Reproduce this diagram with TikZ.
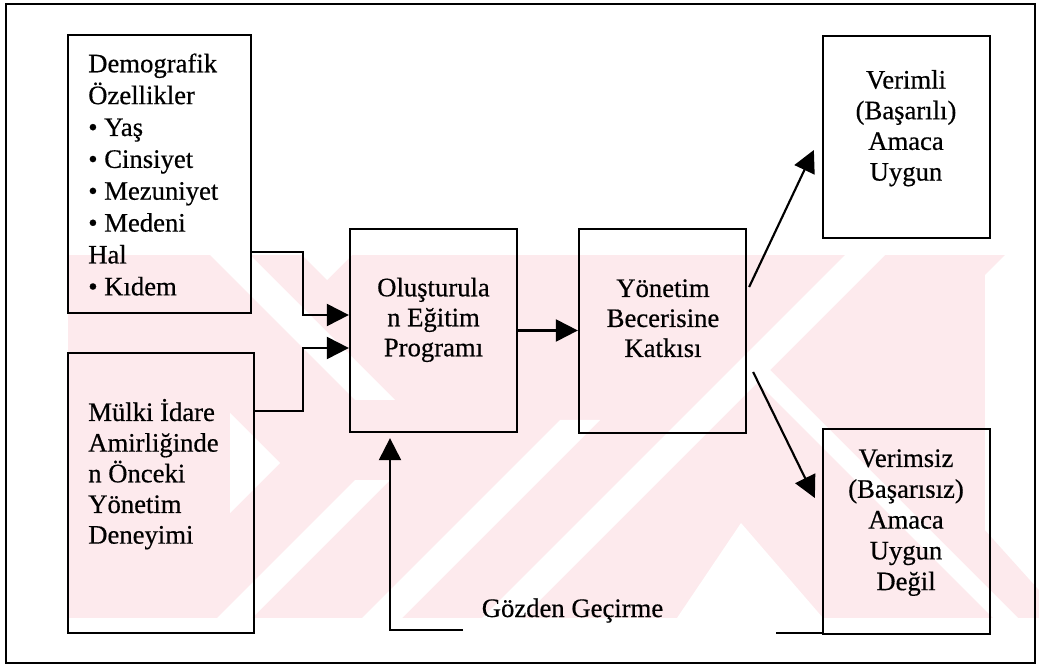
\documentclass[tikz,border=0pt]{standalone}
\usepackage{fontspec}
\setmainfont{Liberation Serif}[FakeBold=0.5]
\usetikzlibrary{arrows.meta,calc}
\definecolor{wm}{RGB}{253,234,237}
\begin{document}
\begin{tikzpicture}[x=0.75pt,y=-0.75pt,
  box/.style 2 args={draw,line width=1.7pt,inner sep=0pt,minimum width=#1*0.75pt,minimum height=#2*0.75pt},
  arr/.style={line width=1.6pt,-{Triangle[length=16.5pt,width=16.5pt]}},
  ln/.style={line width=1.6pt},
  txt/.style={inner sep=0pt,font=\fontsize{20}{#1}\selectfont},
  txt/.default=23pt]
\useasboundingbox (0,0) rectangle (1039,666);
% watermark
\fill[wm] (68,255) rectangle (1039,618);
\fill[white] (210,255) -- (250,255) -- (395,400) -- (355,400) -- cycle;
\fill[white] (302,255) -- (352,255) -- (327,280) -- cycle;
\fill[white] (230,413) -- (280,463) -- (230,513) -- cycle;
\fill[white] (355,480) -- (390,480) -- (252,618) -- (217,618) -- cycle;
\fill[white] (560,420) -- (600,420) -- (402,618) -- (362,618) -- cycle;
\fill[white] (845,255) -- (885,255) -- (522,618) -- (482,618) -- cycle;
\fill[white] (743,368) -- (768,368) -- (1018,618) -- (993,618) -- cycle;
\fill[white] (741,523) -- (823,618) -- (677,618) -- cycle;
\fill[white] (1005,255) -- (1039,255) -- (1039,590) -- (985,530) -- (985,275) -- cycle;
% frame
\draw[line width=1.4pt] (6,4) rectangle (1035,663);
% boxes
\node[box={183}{278}] (b1) at (159.5,174) {};
\node[box={186}{280}] (b2) at (161,493) {};
\node[box={167}{203}] (b3) at (433.5,330.5) {};
\node[box={167}{204}] (b4) at (662.5,331) {};
\node[box={167}{202}] (b5) at (906.5,137) {};
\node[box={167}{205}] (b6) at (906.5,531.5) {};
% texts
\node[txt=23.9pt,anchor=north west,align=left] (t1) at (88,48)
  {\rule{0pt}{18pt}Demografik\\Özellikler\\• Yaş\\• Cinsiyet\\• Mezuniyet\\• Medeni\\Hal\\• Kıdem};
\node[txt=23pt,anchor=north west,align=left] (t2) at (88,396.7)
  {\rule{0pt}{18pt}Mülki İdare\\Amirliğinde\\n Önceki\\Yönetim\\Deneyimi};
\node[txt=22.5pt,anchor=north,align=center] (t3) at (433.5,272)
  {\rule{0pt}{18pt}Oluşturula\\n Eğitim\\Programı};
\node[txt=22.5pt,anchor=north,align=center] (t4) at (663,272.7)
  {\rule{0pt}{18pt}Yönetim\\Becerisine\\Katkısı};
\node[txt=23pt,anchor=north,align=center] (t5) at (906,64.3)
  {\rule{0pt}{18pt}Verimli\\(Başarılı)\\Amaca\\Uygun};
\node[txt=23.1pt,anchor=north,align=center] (t6) at (906,442.7)
  {\rule{0pt}{18pt}Verimsiz\\(Başarısız)\\Amaca\\Uygun\\Değil};
\node[txt,anchor=base] (gz) at (572.5,617) {Gözden Geçirme};
% connectors
\draw[arr] ($(b1.south east)+(0,-62)$) -- ++(51,0) |- ($(b3.west)+(0,-15.5)$);
\draw[arr] ($(b2.north east)+(0,59)$) -- ++(48,0) |- ($(b3.west)+(0,17.5)$);
\draw[arr] (b3.east) -- (b3.east -| b4.west);
\draw[arr] ($(b4.east)+(2,-44)$) -- ($(b5.west)+(-8,13)$);
\draw[arr] ($(b4.east)+(6,41)$) -- ($(b6.west)+(-7,-33.5)$);
\coordinate (fbR) at ($(b6.south west)+(-46,-2)$);
\coordinate (fbL) at (463,630);
\coordinate (fbT) at ($(b3.south)+(-43.5,5)$);
\draw[ln] ($(b6.south west)+(0,-2)$) -- (fbR);
\draw[arr] (fbL) -| (fbT);
\end{tikzpicture}
\end{document}
